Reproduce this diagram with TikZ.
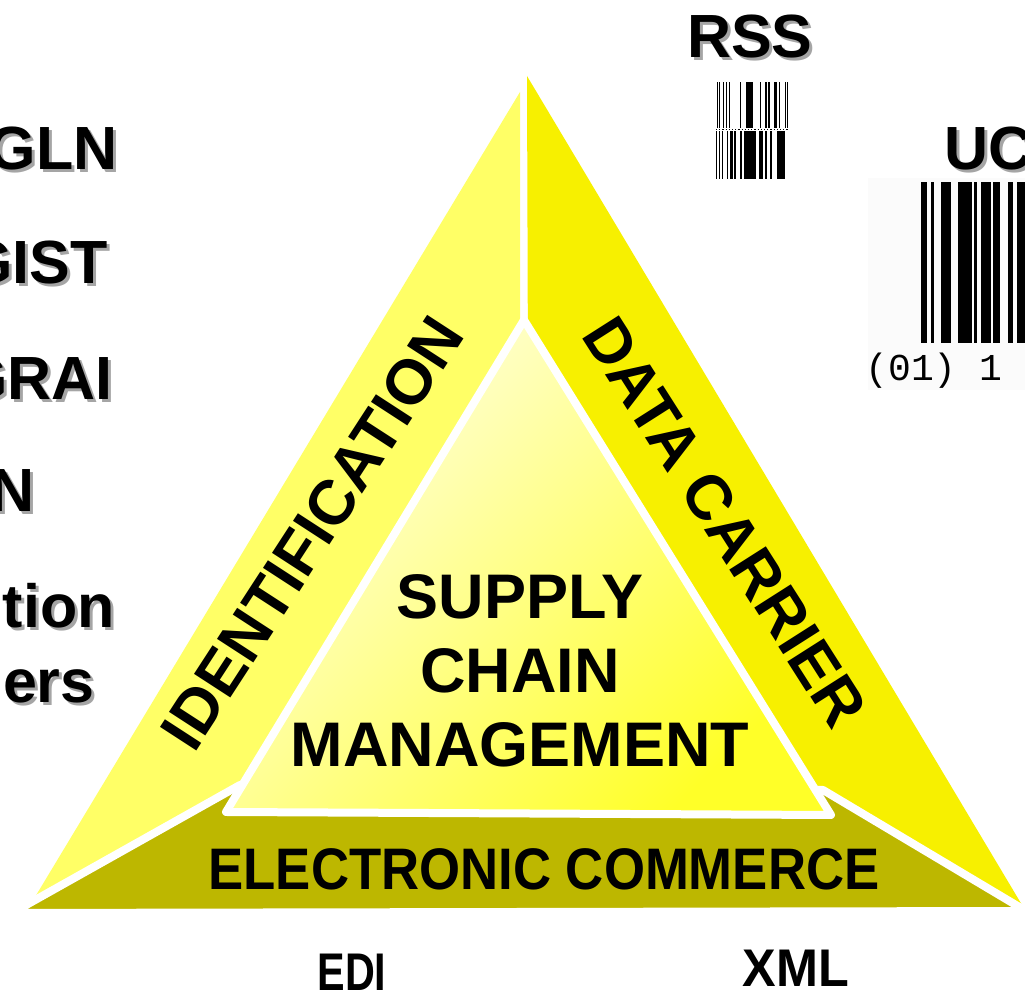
\documentclass[tikz,border=0pt]{standalone}
\usepackage{fontspec}
\setmainfont{Liberation Sans}
\newfontfamily\narrowsans{Liberation Sans}[FakeStretch=0.9]
\newfontfamily\fmtsans{Liberation Sans}[FakeStretch=0.78]
\newfontfamily\fmtwide{Liberation Sans}[FakeStretch=0.95]
\newfontfamily\barmono{Liberation Mono}
\usetikzlibrary{calc}
\definecolor{idyellow}{RGB}{255,255,102}
\definecolor{dcyellow}{RGB}{247,240,0}
\definecolor{ecolive}{RGB}{189,183,0}
\definecolor{scmpale}{RGB}{255,255,228}
\definecolor{scmdeep}{RGB}{255,255,40}
\definecolor{shadowgray}{RGB}{165,165,165}

\begin{document}
\begin{tikzpicture}[x=0.5pt, y=-0.5pt,
    lbl/.style={font=\fontsize{30.5}{36}\selectfont\bfseries, inner sep=0pt},
    lblshade/.style={lbl, text=shadowgray},
    side/.style={font=\fontsize{31.5}{37}\selectfont\bfseries, inner sep=0pt},
    ec/.style={font=\narrowsans\fontsize{29.3}{35}\selectfont\bfseries, inner sep=0pt},
    fmt/.style={font=\fmtsans\fontsize{26.5}{32}\selectfont\bfseries, inner sep=0pt},
    gap/.style={draw=white, line width=4pt, line join=round}
]
    \useasboundingbox (0,0) rectangle (1025,999);
    \fill[white] (0,0) rectangle (1025,999);

    % Labels with drop shadow
    \foreach \name/\x/\y/\txt in {gln/118/170/GLN, gist/108/284/GIST, grai/113/400/GRAI,
        n/35/512/N, tion/115/628/tion, ers/95/703/ers, rss/813/58/RSS, uc/1033/170/UC}{
        \node[lblshade, anchor=base east] (\name-s) at (\x+3,\y+3) {\txt};
        \node[lbl, anchor=base east] (\name) at (\x,\y) {\txt};
    }

    % RSS stacked symbol
    \foreach \a/\w in {716.7/1, 719.3/1, 722.7/1, 725.7/1, 729.3/1, 740/1.3, 746/6.7,
        760/1.3, 765/1.7, 768.3/1.7, 774.3/2.4, 778.7/1.3, 784.7/1.3, 786.7/1.3}
        \fill (\a,82) rectangle ++(\w,46);
    \foreach \a/\w in {716/1.3, 718.7/1.3, 721.7/1, 726.7/1.3, 730/2.7, 734/2, 740/2,
        744/12, 759.3/4, 765.3/2, 770/2, 776.7/8.6}
        \fill (\a,131) rectangle ++(\w,48);
    \draw[densely dotted, line width=0.6pt] (716,129.5) -- (788,129.5);

    % UCC bar code
    \fill[gray!3] (868,178) rectangle (1025,390);
    \foreach \a/\w in {921/6, 931/3, 941/10, 958/14, 974/3, 981/10, 993/7, 1008/5, 1017/8}
        \fill (\a,182) rectangle ++(\w,161);
    \node[font=\barmono\fontsize{19}{22}\selectfont, anchor=base west, inner sep=0pt]
        (gtin) at (865,381) {(01) 1};

    % Triangle corners
    \coordinate (apexL) at (520,92);
    \coordinate (apexR) at (527,76);
    \coordinate (botL) at (26,912);
    \coordinate (botR) at (1022,905);
    \coordinate (scmTop) at (524,320);
    \coordinate (scmLeft) at (226,812);
    \coordinate (scmRight) at (831,815);

    % Outer sides
    \fill[idyellow] (apexL) -- (520,380) -- (260,790) -- (botL) -- cycle;
    \fill[dcyellow] (apexR) -- (botR) -- (800,790) -- (528,380) -- cycle;
    \path[fill=ecolive, gap] (12,913) -- (240,785) -- (823,790) -- (1026,911) -- cycle;

    % Inner triangle
    \shadedraw[gap, left color=scmpale, right color=scmdeep, shading angle=45]
        (scmTop) -- (scmLeft) -- (scmRight) -- cycle;

    % Texts
    \node[side, rotate=57] (ident) at (312,533) {IDENTIFICATION};
    \node[side, rotate=-57.5] (carrier) at (725,522) {DATA CARRIER};
    \node[side, align=center] (scm) at (520,671) {SUPPLY\\CHAIN\\MANAGEMENT};
    \node[ec] (ecom) at (544,869) {ELECTRONIC COMMERCE};
    \node[fmt] (edi) at (352,972) {EDI};
    \node[fmt, font=\fmtwide\fontsize{26.5}{32}\selectfont\bfseries] (xml) at (796,968) {XML};
\end{tikzpicture}
\end{document}
